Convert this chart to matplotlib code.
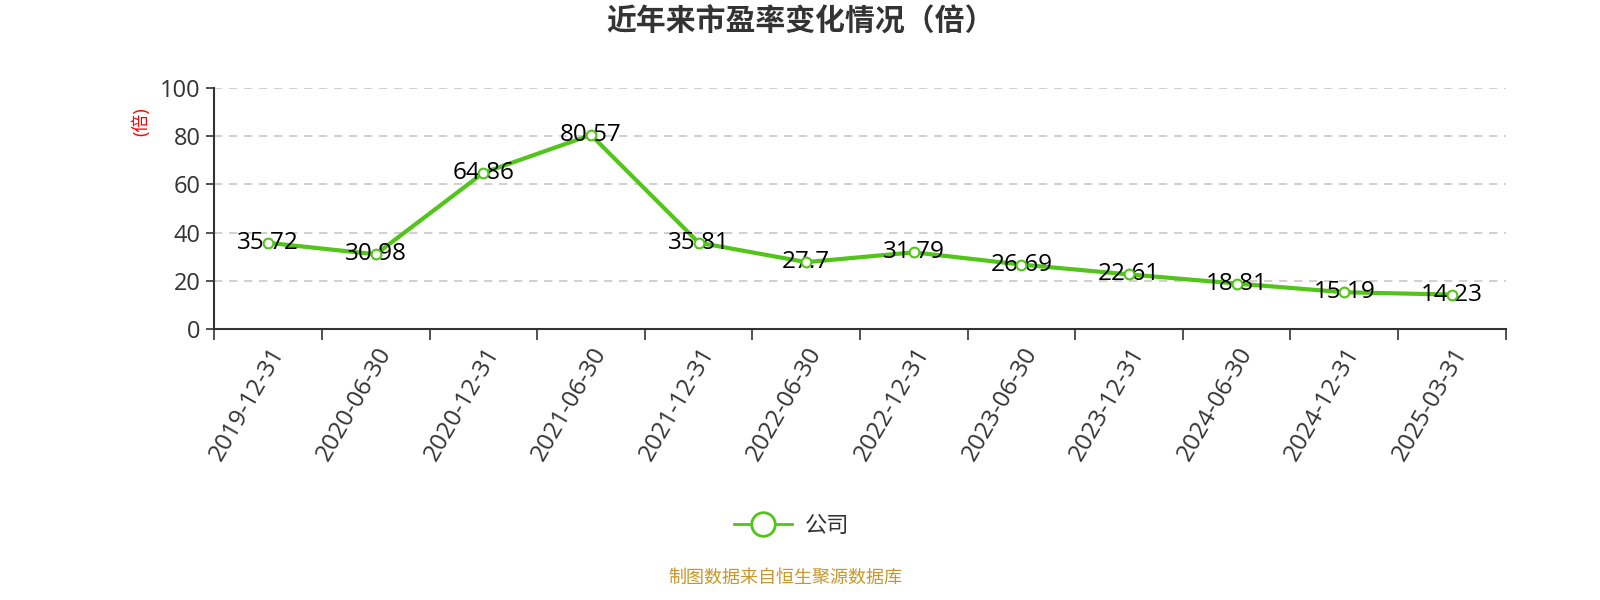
import matplotlib
matplotlib.use('Agg')
import matplotlib.pyplot as plt
from matplotlib.lines import Line2D

plt.rcParams['font.family'] = ['Open Sans', 'Noto Sans CJK SC', 'DejaVu Sans']

# data
dates = ['2019-12-31', '2020-06-30', '2020-12-31', '2021-06-30', '2021-12-31', '2022-06-30',
         '2022-12-31', '2023-06-30', '2023-12-31', '2024-06-30', '2024-12-31', '2025-03-31']
pe = [35.72, 30.98, 64.86, 80.57, 35.81, 27.7, 31.79, 26.69, 22.61, 18.81, 15.19, 14.23]
pe_labels = ['35.72', '30.98', '64.86', '80.57', '35.81', '27.7',
             '31.79', '26.69', '22.61', '18.81', '15.19', '14.23']
yticks = [0, 20, 40, 60, 80, 100]

green = '#52c41a'
axis_color = '#333333'

fig = plt.figure(figsize=(16, 6), dpi=100)
ax = fig.add_axes([0.134, 0.452, 0.807, 0.401])

x = list(range(len(dates)))
ax.plot(x, pe, color=green, linewidth=3, zorder=3)
ax.plot(x, pe, linestyle='none', marker='o', markersize=7, markerfacecolor='white',
        markeredgecolor=green, markeredgewidth=1.5, zorder=5)
for xi, v, lab in zip(x, pe, pe_labels):
    ax.text(xi, v, lab, ha='center', va='center', fontsize=17.5, color='black', zorder=4)

ax.set_xlim(-0.5, len(dates) - 0.5)
ax.set_ylim(0, 100)
ax.set_yticks(yticks)
ax.tick_params(axis='y', labelsize=17, labelcolor=axis_color, color=axis_color,
               length=6, width=1.2, pad=4)
ax.yaxis.grid(True, linestyle=(0, (5, 4)), color='#c8c8c8', linewidth=1.2)
ax.set_axisbelow(True)

# category labels at centers, tick marks at boundaries
ax.set_xticks(x)
ax.set_xticklabels(dates, rotation=60, ha='right', rotation_mode='anchor',
                   fontsize=17.5, color=axis_color)
ax.tick_params(axis='x', which='major', length=0, pad=10)
ax.set_xticks([i - 0.5 for i in range(len(dates) + 1)], minor=True)
ax.tick_params(axis='x', which='minor', length=8, width=1.2, color=axis_color)

for s in ['top', 'right']:
    ax.spines[s].set_visible(False)
for s in ['left', 'bottom']:
    ax.spines[s].set_color(axis_color)
    ax.spines[s].set_linewidth(1.5)

ax.set_ylabel('(倍)', color='red', fontsize=13)
ax.yaxis.set_label_coords(-0.05, 0.86)

fig.text(0.5, 0.962, '近年来市盈率变化情况（倍）', ha='center', va='center',
         fontsize=21.5, fontweight='bold', color='#333333')

handle = Line2D([], [], color=green, linewidth=2, marker='o', markersize=17,
                markerfacecolor='white', markeredgecolor=green, markeredgewidth=2)
fig.legend([handle], ['公司'], loc='center', bbox_to_anchor=(0.495, 0.123),
           frameon=False, fontsize=16, handlelength=2.6, handletextpad=0.6,
           labelcolor='#333333')

fig.text(0.491, 0.038, '制图数据来自恒生聚源数据库', ha='center', va='center',
         fontsize=13, color='#c8962a')

fig.savefig('out.png', dpi=100)
